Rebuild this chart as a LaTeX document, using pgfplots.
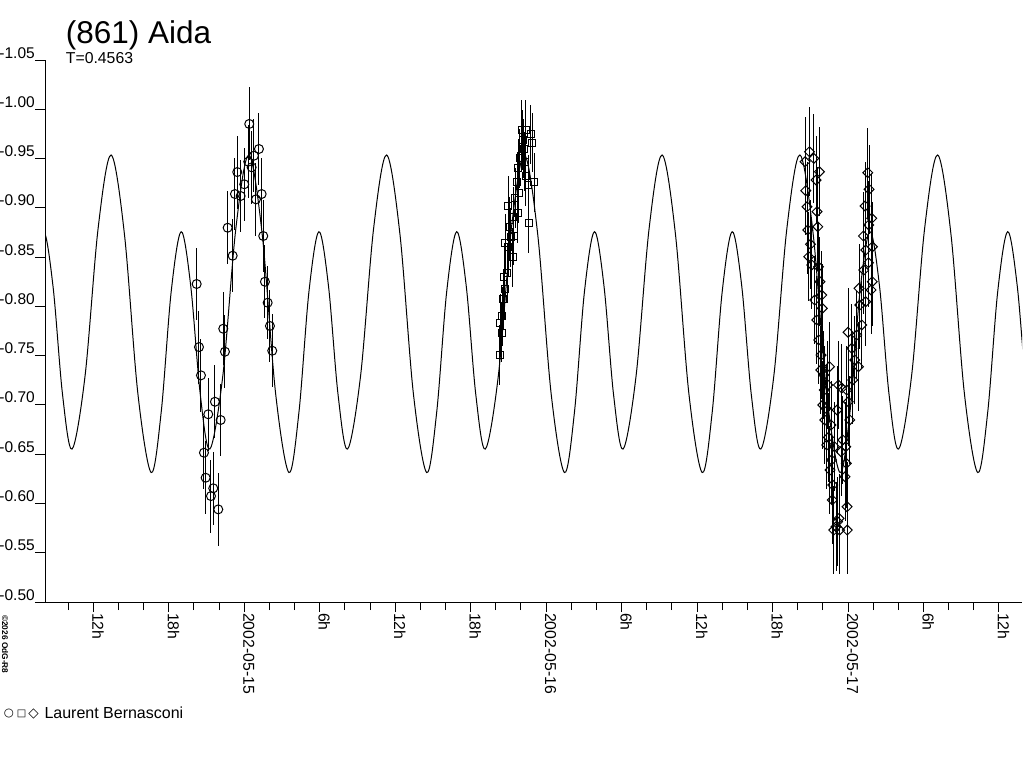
\documentclass[border=0pt]{standalone}
\usepackage{fontspec}
\setmainfont{Liberation Sans}
\newfontfamily\dejavu{DejaVu Sans}
\usepackage{pgfplots}
\pgfplotsset{compat=1.18}

\begin{document}
\begin{tikzpicture}[x=1pt,y=1pt]
\fill[white] (0,0) rectangle (1024,768);
\useasboundingbox (0,0) rectangle (1024,768);
\begin{axis}[
  at={(45pt,166pt)}, anchor=south west,
  scale only axis, width=977pt, height=542pt,
  xmin=-15.84, xmax=61.83, ymin=-1.05, ymax=-0.50,
  y dir=reverse,
  axis x line=bottom, axis y line=left,
  axis line style={-, line width=1pt, black},
  tick align=outside,
  major tick length=10pt, minor tick length=8pt,
  every tick/.style={line width=1pt, black},
  xtick={-12,-6,0,6,12,18,24,30,36,42,48,54,60},
  xticklabels={12h,18h,2002-05-15,6h,12h,18h,2002-05-16,6h,12h,18h,2002-05-17,6h,12h},
  minor xtick={-14,-10,-8,-4,-2,2,4,8,10,14,16,20,22,26,28,32,34,38,40,44,46,50,52,56,58},
  ytick={-1.05,-1,-0.95,-0.9,-0.85,-0.8,-0.75,-0.7,-0.65,-0.6,-0.55,-0.5},
  yticklabels={-1.05,-1.00,-0.95,-0.90,-0.85,-0.80,-0.75,-0.70,-0.65,-0.60,-0.55,-0.50},
  xticklabel style={rotate=-90, anchor=base west, inner sep=0pt, xshift=1pt, yshift=-1pt, font=\fontsize{15.8}{18}\selectfont},
  yticklabel style={anchor=base east, inner sep=0pt, yshift=2pt, font=\fontsize{15.5}{18}\selectfont},
  error bars/error bar style={line width=1pt, black},
  error bars/error mark=none,
]
% model light curve
\addplot[black, line width=1pt, smooth, tension=0.55] coordinates {
(-18.350,-0.6314) (-17.555,-0.6925) (-16.761,-0.8147) (-15.966,-0.8758) (-15.206,-0.8207) (-14.445,-0.7104) (-13.685,-0.6552) (-12.652,-0.7298) (-11.619,-0.8790) (-10.586,-0.9536) (-9.524,-0.8731) (-8.461,-0.7120)
(-7.399,-0.6314) (-6.604,-0.6925) (-5.810,-0.8147) (-5.015,-0.8758) (-4.255,-0.8207) (-3.494,-0.7104) (-2.734,-0.6552) (-1.701,-0.7298) (-0.668,-0.8790) (0.365,-0.9536) (1.427,-0.8731) (2.490,-0.7120)
(3.552,-0.6314) (4.347,-0.6925) (5.141,-0.8147) (5.936,-0.8758) (6.696,-0.8207) (7.457,-0.7104) (8.217,-0.6552) (9.250,-0.7298) (10.283,-0.8790) (11.316,-0.9536) (12.378,-0.8731) (13.441,-0.7120)
(14.503,-0.6314) (15.298,-0.6925) (16.092,-0.8147) (16.887,-0.8758) (17.647,-0.8207) (18.408,-0.7104) (19.168,-0.6552) (20.201,-0.7298) (21.234,-0.8790) (22.267,-0.9536) (23.329,-0.8731) (24.392,-0.7120)
(25.454,-0.6314) (26.249,-0.6925) (27.043,-0.8147) (27.838,-0.8758) (28.598,-0.8207) (29.359,-0.7104) (30.119,-0.6552) (31.152,-0.7298) (32.185,-0.8790) (33.218,-0.9536) (34.280,-0.8731) (35.343,-0.7120)
(36.405,-0.6314) (37.200,-0.6925) (37.994,-0.8147) (38.789,-0.8758) (39.549,-0.8207) (40.310,-0.7104) (41.070,-0.6552) (42.103,-0.7298) (43.136,-0.8790) (44.169,-0.9536) (45.231,-0.8731) (46.294,-0.7120)
(47.356,-0.6314) (48.151,-0.6925) (48.945,-0.8147) (49.740,-0.8758) (50.500,-0.8207) (51.261,-0.7104) (52.021,-0.6552) (53.054,-0.7298) (54.087,-0.8790) (55.120,-0.9536) (56.182,-0.8731) (57.245,-0.7120)
(58.307,-0.6314) (59.102,-0.6925) (59.896,-0.8147) (60.691,-0.8758) (61.451,-0.8207) (62.212,-0.7104) (62.972,-0.6552)
};
% night 1 (circles)
\addplot[black, only marks, mark=o, mark size=4.5pt, mark options={line width=1pt},
  error bars/.cd, y dir=both, y fixed=0.037] coordinates {
(-3.783,-0.8227) (-3.600,-0.7587) (-3.441,-0.7300) (-3.203,-0.6515) (-3.068,-0.6261) (-2.861,-0.6905) (-2.646,-0.6075) (-2.464,-0.6154) (-2.329,-0.7032) (-2.066,-0.5940) (-1.876,-0.6847) (-1.669,-0.7773) (-1.534,-0.7540) (-1.319,-0.8798) (-0.922,-0.8514) (-0.739,-0.9140) (-0.556,-0.9363) (-0.286,-0.9120) (0.000,-0.9239) (0.318,-0.9468) (0.397,-0.9851) (0.588,-0.9411) (0.771,-0.9529) (0.930,-0.9086) (1.168,-0.9597) (1.383,-0.9140) (1.510,-0.8714) (1.645,-0.8250) (1.860,-0.8037) (2.042,-0.7801) (2.225,-0.7550)
};
% night 2 (squares)
\addplot[black, only marks, mark=square, mark size=3.5pt, mark options={line width=1pt},
  error bars/.cd, y dir=both, y fixed=0.03] coordinates {
(20.321,-0.7506) (20.361,-0.7828) (20.456,-0.7733) (20.50,-0.7900) (20.584,-0.8072) (20.65,-0.8300) (20.719,-0.8176) (20.759,-0.8640) (20.901,-0.8335) (20.981,-0.9021) (21.0,-0.8600) (21.116,-0.8808) (21.2,-0.8700) (21.330,-0.8498) (21.378,-0.8910) (21.434,-0.8717) (21.55,-0.9100) (21.696,-0.9265) (21.728,-0.8944) (21.8,-0.9400) (21.831,-0.9147) (21.910,-0.9502) (22.046,-0.9790) (22.125,-0.9688) (22.2,-0.9600) (22.308,-0.9468) (22.363,-0.9323) (22.387,-0.9790) (22.570,-0.9231) (22.602,-0.8843) (22.785,-0.9746) (22.888,-0.9661) (23.047,-0.9259)
};
% night 3 (diamonds)
\addplot[black, only marks, mark=square, mark size=3.5pt, mark options={line width=1pt, rotate=45},
  error bars/.cd, y dir=both, y fixed=0.045] coordinates {
(44.584,-0.9468) (44.640,-0.9174) (44.743,-0.9011) (44.799,-0.8775) (44.878,-0.8504) (44.934,-0.9569) (45.013,-0.8630) (45.116,-0.8420) (45.275,-0.9502) (45.355,-0.8064) (45.458,-0.9282) (45.514,-0.7862) (45.537,-0.8961) (45.593,-0.8808) (45.649,-0.8402) (45.673,-0.7659) (45.728,-0.9366) (45.768,-0.8250) (45.832,-0.7354) (45.855,-0.7506) (45.911,-0.8115) (45.951,-0.7980) (45.990,-0.6999) (46.070,-0.7303) (46.110,-0.7151) (46.149,-0.6847) (46.253,-0.6965) (46.309,-0.6593) (46.388,-0.7202) (46.444,-0.6671) (46.523,-0.7388) (46.563,-0.6339) (46.650,-0.6796) (46.690,-0.6441) (46.746,-0.6035) (46.785,-0.6187) (46.865,-0.5730) (46.921,-0.6576) (47.048,-0.5764) (47.127,-0.6948) (47.167,-0.5815) (47.238,-0.7202) (47.286,-0.5849) (47.326,-0.5730) (47.445,-0.6525) (47.501,-0.7171) (47.580,-0.6644) (47.763,-0.6271) (47.819,-0.6576) (47.858,-0.6407) (47.898,-0.7151) (47.922,-0.5967) (47.938,-0.5730) (48.001,-0.7737) (48.017,-0.7032) (48.136,-0.6847) (48.295,-0.7574) (48.375,-0.7253) (48.534,-0.7456) (48.693,-0.7709) (48.828,-0.7388) (48.876,-0.8183) (48.932,-0.8014) (49.090,-0.7811) (49.225,-0.8714) (49.249,-0.8369) (49.352,-0.9018) (49.396,-0.8047) (49.408,-0.8572) (49.567,-0.9356) (49.622,-0.8443) (49.646,-0.8826) (49.670,-0.9188) (49.829,-0.8166) (49.885,-0.8894) (49.924,-0.8250) (49.940,-0.8605)
};
\end{axis}
% titles
\node[anchor=base west, inner sep=0pt, font=\fontsize{31.5}{36}\selectfont] at (65.7,724.7) {(861) Aida};
\node[anchor=base west, inner sep=0pt, font=\fontsize{15.8}{18}\selectfont] at (65.7,704.7) {T=0.4563};
% legend
\node[inner sep=0pt, font=\dejavu\fontsize{11.5}{12}\selectfont] at (9,54) {○};
\node[inner sep=0pt, font=\dejavu\fontsize{10}{11}\selectfont] at (21.5,54) {□};
\node[inner sep=0pt, font=\dejavu\fontsize{13.5}{14}\selectfont] at (33.5,54) {◇};
\node[anchor=base west, inner sep=0pt, font=\fontsize{16}{19}\selectfont] at (44.3,49.7) {Laurent Bernasconi};
% copyright
\node[rotate=-90, anchor=west, inner sep=0pt, font=\bfseries\fontsize{8.3}{9}\selectfont] at (5.2,153) {©2026 OdG-R8};
\end{tikzpicture}
\end{document}
